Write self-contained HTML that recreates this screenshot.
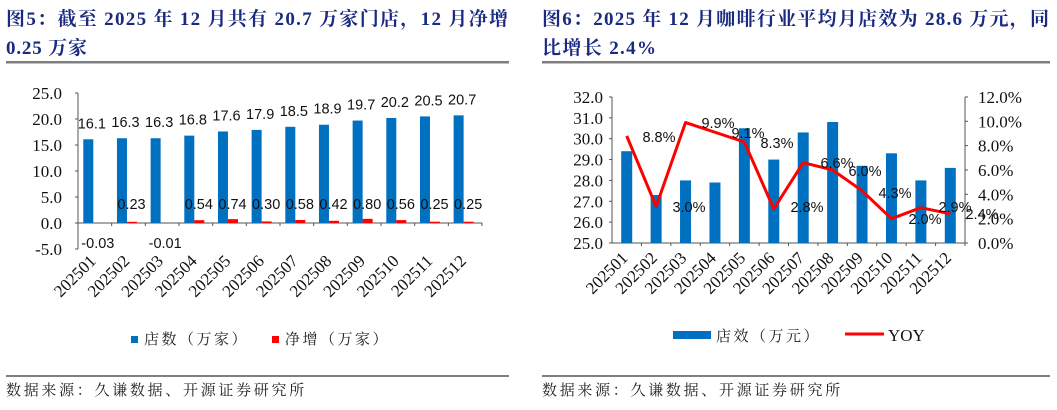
<!DOCTYPE html>
<html><head><meta charset="utf-8"><style>
html,body{margin:0;padding:0;background:#fff;}
svg text{font-family:"Liberation Serif","Noto Serif CJK SC",serif;}
.t{font-family:"Liberation Serif","Noto Serif CJK SC",serif;font-weight:bold;fill:#1a2a80;font-size:19px;}
.s{font-family:"Liberation Sans","Noto Sans CJK SC",sans-serif;font-size:14.5px;fill:#111;}
.ax{font-size:17px;fill:#111;}
.src{font-family:"Noto Serif CJK SC","Liberation Serif",serif;font-size:15px;fill:#222;letter-spacing:2.7px;}
.lg{font-family:"Noto Serif CJK SC","Liberation Serif",serif;font-size:15px;fill:#222;letter-spacing:2.5px;}
</style></head><body>
<svg width="1057" height="405" xmlns="http://www.w3.org/2000/svg">
<text class="t" x="6" y="25" textLength="502" lengthAdjust="spacing">图5：截至 2025 年 12 月共有 20.7 万家门店，12 月净增</text>
<text class="t" x="6" y="54" textLength="81" lengthAdjust="spacing">0.25 万家</text>
<rect x="6" y="61" width="503" height="2.5" fill="#7f7f7f"/>
<text class="t" x="542" y="25" textLength="507" lengthAdjust="spacing">图6：2025 年 12 月咖啡行业平均月店效为 28.6 万元，同</text>
<text class="t" x="542" y="54" textLength="114" lengthAdjust="spacing">比增长 2.4%</text>
<rect x="542" y="61" width="508" height="2.5" fill="#7f7f7f"/>
<rect x="6" y="375" width="503" height="2" fill="#7f7f7f"/>
<rect x="542" y="375" width="508" height="2" fill="#7f7f7f"/>
<text class="src" x="6" y="395">数据来源：久谦数据、开源证券研究所</text>
<text class="src" x="542" y="395">数据来源：久谦数据、开源证券研究所</text>
<g id="L"></g><g id="R"></g>
</svg>
<script>
const NS="http://www.w3.org/2000/svg";
function el(p,t,a,txt){const e=document.createElementNS(NS,t);for(const k in a)e.setAttribute(k,a[k]);if(txt!==undefined)e.textContent=txt;p.appendChild(e);return e;}
const cats=["202501","202502","202503","202504","202505","202506","202507","202508","202509","202510","202511","202512"];
const L=document.getElementById("L");
const y=v=>223-5.2*v, W=(482-78)/12;
const blue=[16.1,16.3,16.3,16.8,17.6,17.9,18.5,18.9,19.7,20.2,20.5,20.7];
const net=[-0.03,0.23,-0.01,0.54,0.74,0.30,0.58,0.42,0.80,0.56,0.25,0.25];
el(L,"line",{x1:78,y1:93,x2:78,y2:249,stroke:"#555"});
for(let v=-5;v<=25;v+=5){el(L,"line",{x1:75,y1:y(v),x2:78,y2:y(v),stroke:"#555"});el(L,"text",{x:62,y:y(v)+6,"text-anchor":"end",class:"ax"},v.toFixed(1));}
el(L,"line",{x1:78,y1:223,x2:482,y2:223,stroke:"#555"});
for(let i=0;i<12;i++){
 const x0=78+W*i,cx=x0+W/2;
 el(L,"line",{x1:x0+W,y1:223,x2:x0+W,y2:226,stroke:"#555"});
 el(L,"rect",{x:x0+5.3,y:y(blue[i]),width:10,height:223-y(blue[i]),fill:"#0070c0"});
 const n=net[i];el(L,"rect",{x:x0+15.3,y:n>0?y(n):223,width:10,height:Math.max(Math.abs(n*5.2),0.5),fill:"#ff0000"});
 el(L,"text",{x:cx-3,y:y(blue[i])-11,"text-anchor":"middle",class:"s"},blue[i].toFixed(1));
 if(n<0)el(L,"text",{x:cx+3,y:248,"text-anchor":"middle",class:"s"},n.toFixed(2));
 else el(L,"text",{x:cx+3,y:209,"text-anchor":"middle",class:"s"},n.toFixed(2));
 el(L,"text",{x:0,y:0,"text-anchor":"end",class:"ax",transform:`translate(${cx+2},262) rotate(-45)`},cats[i]);
}
el(L,"rect",{x:131,y:336,width:7,height:7,fill:"#0070c0"});
el(L,"text",{x:144,y:344,class:"lg"},"店数（万家）");
el(L,"rect",{x:272,y:336,width:7,height:7,fill:"#ff0000"});
el(L,"text",{x:285,y:344,class:"lg"},"净增（万家）");
const R=document.getElementById("R");
const yl=v=>243-20.86*(v-25), yr=p=>243-12.17*p, W2=(965-612)/12;
const bars=[29.4,27.3,28.0,27.9,30.5,29.0,30.3,30.8,28.7,29.3,28.0,28.6];
const yoy=[8.8,3.0,9.9,9.1,8.3,2.8,6.6,6.0,4.3,2.0,2.9,2.4];
const lp=[[659,137],[689,207],[718,123],[748,133],[777,143],[807,207],[837,163],[865,171],[895,193],[925,219],[955,207],[982,214]];
el(R,"line",{x1:612,y1:97,x2:612,y2:243,stroke:"#555"});
el(R,"line",{x1:965,y1:97,x2:965,y2:243,stroke:"#555"});
el(R,"line",{x1:612,y1:243,x2:965,y2:243,stroke:"#555"});
for(let v=25;v<=32;v++){el(R,"line",{x1:609,y1:yl(v),x2:612,y2:yl(v),stroke:"#555"});el(R,"text",{x:603,y:yl(v)+6,"text-anchor":"end",class:"ax"},v.toFixed(1));}
for(let p=0;p<=12;p+=2){el(R,"line",{x1:965,y1:yr(p),x2:968,y2:yr(p),stroke:"#555"});el(R,"text",{x:978,y:yr(p)+6,class:"ax"},p.toFixed(1)+"%");}
let pts=[];
for(let i=0;i<12;i++){
 const x0=612+W2*i,cx=x0+W2/2;
 el(R,"line",{x1:x0+W2,y1:243,x2:x0+W2,y2:246,stroke:"#555"});
 el(R,"rect",{x:cx-5.5,y:yl(bars[i]),width:11,height:243-yl(bars[i]),fill:"#0070c0"});
 pts.push(cx+","+yr(yoy[i]));
 el(R,"text",{x:0,y:0,"text-anchor":"end",class:"ax",transform:`translate(${cx+2},259) rotate(-45)`},cats[i]);
}
el(R,"polyline",{points:pts.join(" "),fill:"none",stroke:"#ff0000","stroke-width":3,"stroke-linejoin":"round"});
for(let i=0;i<12;i++)el(R,"text",{x:lp[i][0],y:lp[i][1]+5,"text-anchor":"middle",class:"s"},yoy[i].toFixed(1)+"%");
el(R,"rect",{x:673,y:331,width:38,height:8,fill:"#0070c0"});
el(R,"text",{x:716,y:341,class:"lg"},"店效（万元）");
el(R,"line",{x1:845,y1:334,x2:884,y2:334,stroke:"#ff0000","stroke-width":3});
el(R,"text",{x:888,y:341,class:"ax"},"YOY");
</script>
</body></html>
